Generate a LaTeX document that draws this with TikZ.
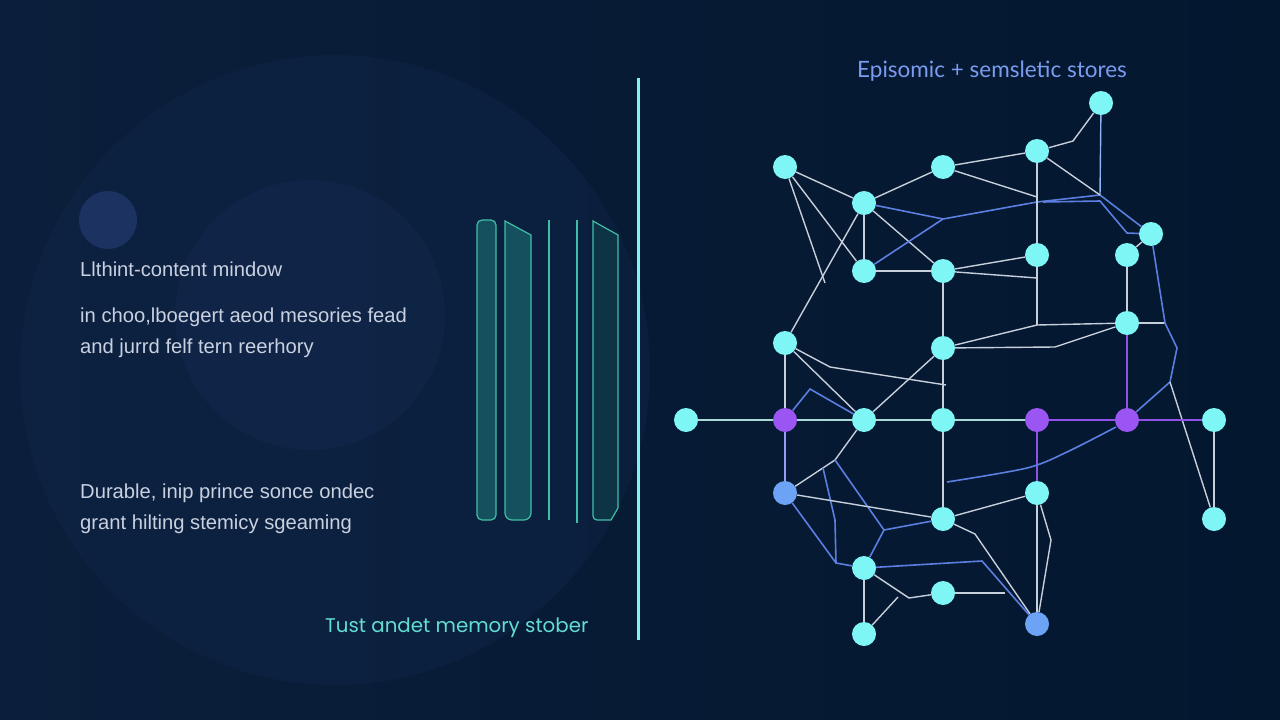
\documentclass[tikz,border=0pt]{standalone}
\usepackage{fontspec}
\setmainfont{Liberation Sans}
\newfontfamily\popfont{Poppins}
\newfontfamily\latofont{Lato}
\begin{document}
\begin{tikzpicture}[x=1pt,y=-1pt]
\definecolor{bgL}{HTML}{0B1E3B}
\definecolor{bgM}{HTML}{071B36}
\definecolor{bgR}{HTML}{03172F}
\definecolor{blobA}{HTML}{102548}
\definecolor{blobB}{HTML}{12284D}
\definecolor{blobC}{HTML}{1C3260}
\definecolor{txtg}{HTML}{C9D1E0}
\definecolor{teal}{HTML}{62DDD2}
\definecolor{topb}{HTML}{7A9CF0}
\definecolor{cyanN}{HTML}{7FF6F6}
\definecolor{purpN}{HTML}{9B55F2}
\definecolor{blueN}{HTML}{6DA3F5}
\definecolor{wline}{HTML}{C7CFDA}
\definecolor{bline}{HTML}{5B7FE0}
\definecolor{pline}{HTML}{9150E8}
\definecolor{tline}{HTML}{A9DAD6}
\definecolor{barE}{HTML}{3FBFA5}
\definecolor{barF}{HTML}{15505F}
\definecolor{barG}{HTML}{0C3444}
\definecolor{sepC}{HTML}{80F2F0}
\tikzset{
  gn/.style={circle,fill=cyanN,minimum size=24pt,inner sep=0pt},
  gp/.style={gn,fill=purpN},
  gb/.style={gn,fill=blueN},
  wl/.style={draw=wline,line width=1.4pt},
  bl/.style={draw=bline,line width=1.6pt},
  pl/.style={draw=pline,line width=1.6pt},
  tl/.style={draw=tline,line width=1.4pt},
  gtxt/.style={anchor=west,text=txtg,font=\fontsize{20.2}{23}\selectfont,inner sep=0pt},
  barline/.style={draw=barE,line width=1.2pt}
}
\useasboundingbox (0,0) rectangle (1280,720);
\shade[left color=bgL,middle color=bgM,right color=bgR] (0,0) rectangle (1280,720);
% faint background blobs
\fill[blobA,opacity=0.45] (335,370) circle (315);
\fill[blobB,opacity=0.5] (310,315) circle (135);
\fill[blobC] (108,220) circle (29);
% left texts
\node[gtxt] (t1) at (80,269) {Llthint-content mindow};
\node[gtxt] (t2) at (80,317) {in choo,lboegert aeod mesories fead};
\node[gtxt] (t3) at (80,348) {and jurrd felf tern reerhory};
\node[gtxt] (t4) at (80,493) {Durable, inip prince sonce ondec};
\node[gtxt] (t5) at (80,524) {grant hilting stemicy sgeaming};
\node[anchor=west,inner sep=0pt,text=teal,font=\popfont\fontsize{19.8}{22}\selectfont] (t6) at (325,628) {Tust andet memory stober};
\node[anchor=west,inner sep=0pt,text=topb,font=\latofont\fontsize{22.5}{25}\selectfont] (t7) at (857,71) {Episomic + semsletic stores};
% bars
\filldraw[barline,fill=barF,rounded corners=5pt] (477,220) rectangle (496,520);
\filldraw[barline,fill=barF] (505,221) -- (531,235) -- (531,508) [rounded corners=7pt] -- (531,520) -- (505,520) [sharp corners] -- cycle;
\draw[barline] (549,220) -- (549,520);
\draw[barline] (577,220) -- (577,523);
\filldraw[barline,fill=barG] (593,221) -- (618,235) -- (618,508) -- (611,520) -- (599,520) [rounded corners=4pt] -- (593,520) [sharp corners] -- cycle;
% separator
\draw[sepC,line width=3pt] (638,78) -- (638,640);
% nodes
\node[gn] (n1) at (785,167) {};
\node[gn] (n2) at (943,167) {};
\node[gn] (n3) at (1037,151) {};
\node[gn] (n4) at (1101,103) {};
\node[gn] (n5) at (864,203) {};
\node[gn] (n6) at (864,271) {};
\node[gn] (n7) at (943,271) {};
\node[gn] (n8) at (1037,255) {};
\node[gn] (n9) at (1151,234) {};
\node[gn] (n10) at (1127,255) {};
\node[gn] (n11) at (785,343) {};
\node[gn] (n12) at (943,348) {};
\node[gn] (n13) at (1127,323) {};
\node[gn] (n14) at (686,420) {};
\node[gp] (n15) at (785,420) {};
\node[gn] (n16) at (864,420) {};
\node[gn] (n17) at (943,420) {};
\node[gp] (n18) at (1037,420) {};
\node[gp] (n19) at (1127,420) {};
\node[gn] (n20) at (1214,420) {};
\node[gb] (n21) at (785,493) {};
\node[gn] (n22) at (1037,493) {};
\node[gn] (n23) at (943,519) {};
\node[gn] (n24) at (1214,519) {};
\node[gn] (n25) at (864,568) {};
\node[gn] (n26) at (943,593) {};
\node[gb] (n27) at (1037,624) {};
\node[gn] (n28) at (864,634) {};
% junction coordinates
\coordinate (a1) at (825,283);
\coordinate (b1) at (943,219);
\coordinate (b2) at (1037,202);
\coordinate (b3) at (1100,195);
\coordinate (b4) at (1043,202);
\coordinate (b5) at (1100,201);
\coordinate (b6) at (1127,233);
\coordinate (c1) at (1073,141);
\coordinate (c2) at (1037,197);
\coordinate (c3) at (1037,278);
\coordinate (c4) at (1037,325);
\coordinate (c5) at (1055,347);
\coordinate (c6) at (1165,323);
\coordinate (c7) at (1177,348);
\coordinate (c8) at (1170,382);
\coordinate (d1) at (830,367);
\coordinate (d2) at (946,385);
\coordinate (d3) at (810,389);
\coordinate (d4) at (835,460);
\coordinate (d5) at (823,468);
\coordinate (d6) at (835,520);
\coordinate (d7) at (836,563);
\coordinate (d8) at (884,530);
\coordinate (e1) at (947,482);
\coordinate (e2) at (1027,468);
\coordinate (e3) at (1067,452);
\coordinate (e4) at (1116,427);
\coordinate (f1) at (975,534);
\coordinate (f2) at (982,561);
\coordinate (f3) at (1005,593);
\coordinate (f4) at (1051,540);
\coordinate (g1) at (909,598);
\coordinate (g2) at (898,597);
% edges
\draw[wl] (n1) -- (n5);
\draw[wl] (n1) -- (a1);
\draw[wl] (n1) -- (n6);
\draw[wl] (n5) -- (n11);
\draw[wl] (n5) -- (n2);
\draw[wl] (n5) -- (n6);
\draw[wl] (n5) -- (n7);
\draw[wl] (n2) -- (n3);
\draw[bl] (n5) -- (b1) -- (b2);
\draw[bl] (b2) -- (b3) -- (n9);
\draw[bl] (n6) -- (b1);
\draw[bl] (b4) -- (b5) -- (b6) -- (n9);
\draw[wl] (n10) -- (n9);
\draw[draw=blueN!80!white,line width=1.4pt] (n4) -- (b3);
\draw[wl] (n4) -- (c1) -- (n3);
\draw[wl] (n3) -- (b3);
\draw[wl] (n2) -- (c2);
\draw[wl] (n3) -- (n8) -- (c4);
\draw[wl] (n7) -- (n8);
\draw[wl] (n7) -- (c3);
\draw[wl] (c4) -- (n12);
\draw[wl] (c4) -- (n13);
\draw[wl] (n12) -- (c5) -- (n13);
\draw[wl] (n13) -- (c6);
\draw[bl] (n9) -- (c6) -- (c7) -- (c8) -- (n19);
\draw[wl] (c8) -- (n24);
\draw[wl] (n10) -- (n13);
\draw[pl] (n13) -- (n19);
\draw[pl] (n18) -- (n19);
\draw[pl] (n19) -- (n20);
\draw[pl] (n18) -- (n22);
\draw[tl] (n14) -- (n15);
\draw[tl] (n15) -- (n16);
\draw[tl] (n16) -- (n17);
\draw[tl] (n17) -- (n18);
\draw[wl] (n20) -- (n24);
\draw[wl] (n6) -- (n7);
\draw[wl] (n7) -- (n12);
\draw[wl] (n12) -- (n17);
\draw[wl] (n17) -- (n23);
\draw[wl] (n11) -- (n15);
\draw[draw=blueN!60!purpN!80!white,line width=1.6pt] (n15) -- (n21);
\draw[wl] (n11) -- (n16);
\draw[wl] (n11) -- (d1) -- (d2);
\draw[wl] (n12) -- (n16);
\draw[bl] (n15) -- (d3) -- (n16);
\draw[wl] (n16) -- (d4) -- (n21);
\draw[bl] (d5) -- (d6) -- (d7) -- (n25);
\draw[bl] (n21) -- (d7);
\draw[bl] (d4) -- (d8) -- (n25);
\draw[bl] (d8) -- (n23);
\draw[wl] (n21) -- (n23);
\draw[bl] plot[smooth] coordinates {(e1) (e2) (e3) (e4)};
\draw[wl] (n22) -- (n23);
\draw[wl] (n23) -- (f1) -- (n27);
\draw[bl] (n25) -- (f2) -- (n27);
\draw[wl] (n26) -- (f3);
\draw[wl] (n22) -- (n27);
\draw[wl] (n22) -- (f4) -- (n27);
\draw[wl] (n25) -- (n28);
\draw[wl] (n25) -- (g1) -- (n26);
\draw[wl] (n28) -- (g2);
\end{tikzpicture}
\end{document}
